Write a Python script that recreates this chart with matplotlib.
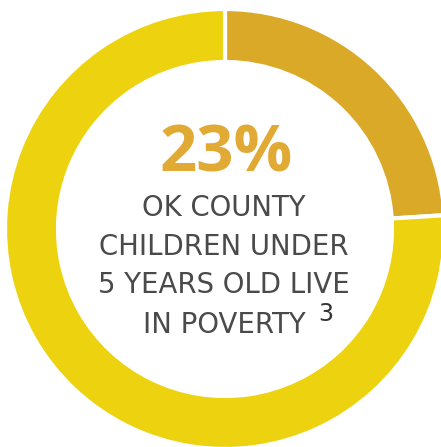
import matplotlib
matplotlib.use("Agg")
import matplotlib.pyplot as plt

# Data
segments = ["In poverty", "Not in poverty"]
shares = [24, 76]
colors = ["#DAA928", "#EDD30F"]
headline = "23%"
caption_lines = ["OK COUNTY", "CHILDREN UNDER", "5 YEARS OLD LIVE", "IN POVERTY"]
footnote = "3"

W, H = 441, 447
fig = plt.figure(figsize=(W / 100, H / 100), dpi=100)
ax = fig.add_axes([0, 0, 1, 1])
ax.set_xlim(0, W)
ax.set_ylim(0, H)
ax.set_aspect("equal")
ax.axis("off")

cx, cy = 225, H - 229
ax.pie(shares, colors=colors, radius=220, center=(cx, cy), startangle=90,
       counterclock=False,
       wedgeprops=dict(width=53, edgecolor="white", linewidth=3))
ax.set_xlim(0, W)
ax.set_ylim(0, H)

ax.text(226, H - 171, headline, ha="center", va="baseline", fontsize=47,
        fontweight="bold", color="#E0AA35", family="Open Sans")

baselines = [216, 255, 293, 333]
for line, b in zip(caption_lines, baselines):
    ax.text(224, H - b, line, ha="center", va="baseline",
            fontsize=19.8, color="#4A4A4A", family="DejaVu Sans")

ax.text(318, H - 321, footnote, ha="left", va="baseline", fontsize=17,
        color="#333333", family="DejaVu Sans")

fig.savefig("out.png", dpi=100, facecolor="white")
